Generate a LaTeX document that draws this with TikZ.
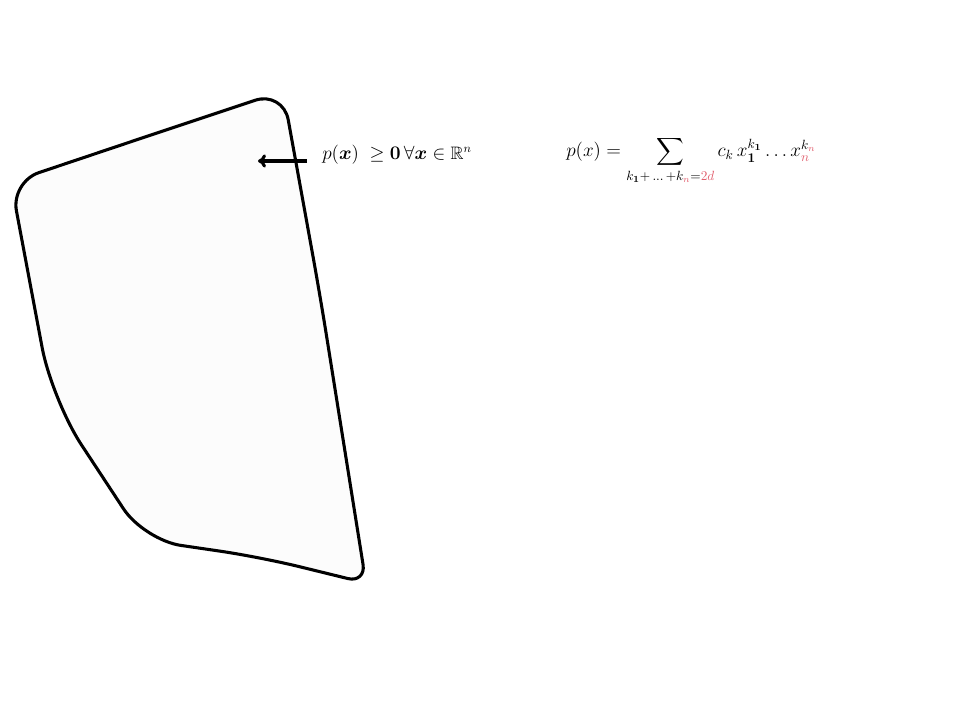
\documentclass[tikz,border=0pt]{standalone}
\usepackage{amsmath,amssymb,bm}
\usetikzlibrary{arrows.meta}
\definecolor{setfill}{RGB}{252,252,252}
\definecolor{hl}{RGB}{225,95,110}
\newcommand{\hlc}[1]{\textcolor{hl}{#1}}
\begin{document}
\begin{tikzpicture}[x=0.75pt,y=-0.75pt,
  outline/.style={draw=black,line width=2.3pt,fill=setfill},
  pointer/.style={-{To[length=6pt,width=10pt]},line width=2.3pt},
  lbl/.style={inner sep=0pt,anchor=west}]
\useasboundingbox (0,0) rectangle (960,720);
\draw[outline]
  (145,137) [rounded corners=22pt] -- (283,91)
  [rounded corners=30pt] -- (320,295) [rounded corners=14pt] -- (366,583)
  [rounded corners=30pt] -- (260,557) [rounded corners=28pt] -- (144,540)
  [rounded corners=40pt] -- (52,400)
  [rounded corners=22pt] -- (11,182) [sharp corners] -- cycle;
\node[lbl,font=\fontsize{13.5}{16}\selectfont] (cond) at (322,155) {$p(\bm{x})\;\geq\bm{0}\,\forall\bm{x}\in\mathbb{R}^n$};
\coordinate (tip) at (258,161);
\draw[pointer] (307,161) -- (tip);
\node[lbl,anchor=base west,font=\Large] (poly) at (566,157) {$\displaystyle p(x)=\sum_{k_{\mathbf{1}}+\,\ldots\,+k_{\hlc{n}}=\hlc{2d}} c_k\,x_{\mathbf{1}}^{k_{\mathbf{1}}}\ldots x_{\hlc{n}}^{k_{\hlc{n}}}$};
\end{tikzpicture}
\end{document}
